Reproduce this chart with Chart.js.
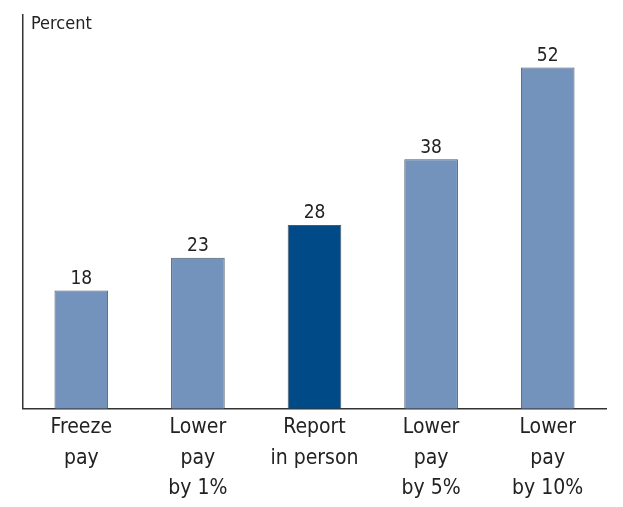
<!DOCTYPE html>
<html><head><meta charset="utf-8">
<script src="https://cdn.jsdelivr.net/npm/chart.js@4/dist/chart.umd.min.js"></script>
<style>html,body{margin:0;padding:0;background:#fff}#wrap{width:623px;height:507px}</style>
</head><body><div id="wrap"><canvas id="c" width="623" height="507"></canvas></div>
<script>
const categories = [["Freeze","pay"],["Lower","pay","by 1%"],["Report","in person"],["Lower","pay","by 5%"],["Lower","pay","by 10%"]];
const values = [18, 23, 28, 38, 52];
const barColors = ["#7393bd","#7393bd","#004b87","#7393bd","#7393bd"];
const yLabel = "Percent";
const FONT = "'DejaVu Sans Condensed','Liberation Sans Narrow','Arial Narrow',sans-serif";

const labelPlugin = {
  id: 'labels',
  afterDatasetsDraw(chart) {
    const ctx = chart.ctx;
    const meta = chart.getDatasetMeta(0);
    ctx.save();
    ctx.fillStyle = '#222';
    ctx.font = '19px ' + FONT;
    ctx.textAlign = 'center';
    ctx.textBaseline = 'bottom';
    meta.data.forEach((bar, i) => {
      ctx.fillText(String(values[i]), bar.x, bar.y - 2);
    });
    ctx.font = '18px ' + FONT;
    ctx.textAlign = 'left';
    ctx.textBaseline = 'middle';
    ctx.fillText(yLabel, chart.chartArea.left + 8, 24);
    ctx.restore();
  }
};

new Chart(document.getElementById('c'), {
  type: 'bar',
  data: {
    labels: categories,
    datasets: [{
      data: values,
      backgroundColor: barColors,
      borderColor: '#4d5a68',
      borderWidth: 1,
      barPercentage: 0.46,
      categoryPercentage: 1
    }]
  },
  options: {
    responsive: false,
    animation: false,
    layout: { padding: { left: 23, right: 17, top: 15, bottom: -1 } },
    plugins: { legend: { display: false }, tooltip: { enabled: false } },
    scales: {
      x: {
        grid: { display: false, drawTicks: false },
        border: { display: true, color: '#333', width: 1.5 },
        ticks: { color: '#222', font: { family: FONT, size: 21, lineHeight: 1.45 }, padding: 4, maxRotation: 0, autoSkip: false }
      },
      y: {
        min: 0, max: 60,
        grid: { display: false, drawTicks: false },
        border: { display: true, color: '#333', width: 1.5 },
        ticks: { display: false }
      }
    }
  },
  plugins: [labelPlugin]
});
</script></body></html>
